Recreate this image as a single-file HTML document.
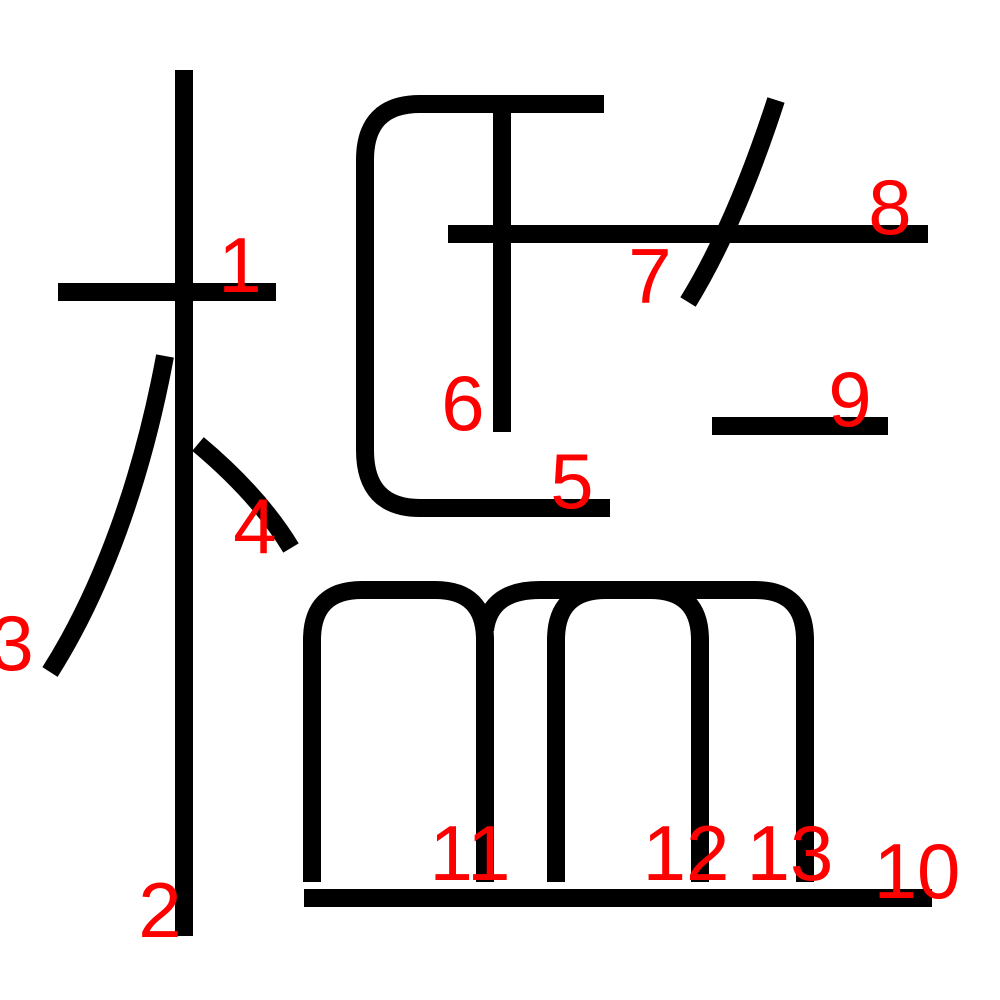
<!DOCTYPE html>
<html><head><meta charset="utf-8"><style>
html,body{margin:0;padding:0;background:#fff;}
svg{display:block;}
text{font-family:"Liberation Sans",sans-serif;font-size:78px;fill:#ff0000;text-anchor:middle;}
</style></head><body>
<svg width="1000" height="1000" viewBox="0 0 1000 1000">
<g fill="none" stroke="#000" stroke-width="18">
<path d="M58,292 H276"/>
<path d="M184,70 V936"/>
<path d="M165,356 C142,480 102,590 50,672"/>
<path d="M198,444 C235,475 268,510 291,548"/>
<path d="M604,104 H420 Q365,104 365,160 V450 Q365,508 420,508 H610"/>
<path d="M502,112 V432"/>
<path d="M776,100 C750,180 720,250 688,302"/>
<path d="M448,234 H928"/>
<path d="M712,426 H888"/>
<path d="M304,898 H932"/>
<path d="M312,882 V640 Q312,590 362,590 H435 Q485,590 485,640 V882"/>
<path d="M556,882 V640 Q556,590 606,590 H650 Q700,590 700,640 V882"/>
<path d="M485,630 Q490,590 540,590 H755 Q805,590 805,640 V882"/>
</g>
<g>
<text x="240" y="292">1</text>
<text x="160" y="937">2</text>
<text x="12" y="670">3</text>
<text x="255" y="553">4</text>
<text x="572" y="508">5</text>
<text x="463" y="430">6</text>
<text x="650" y="303">7</text>
<text x="890" y="234">8</text>
<text x="850" y="426">9</text>
<text x="917" y="898">10</text>
<text x="470" y="880">11</text>
<text x="686" y="880">12</text>
<text x="790" y="880">13</text>
</g>
</svg>
</body></html>
